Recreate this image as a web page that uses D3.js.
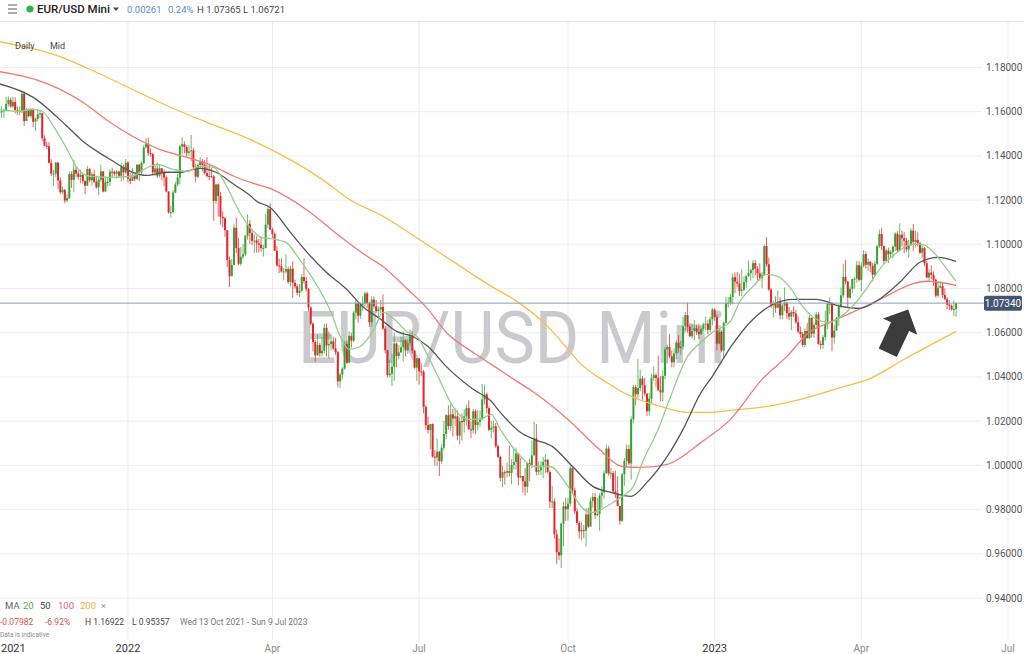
<!DOCTYPE html>
<html>
<head>
	<title>EUR/USD Mini daily</title>
	<script src="https://d3js.org/d3.v7.min.js" charset="utf-8"></script>
	<style>
		body { margin: 0; background: #fff; }
		text { font-family: Roboto, "Open Sans", sans-serif; }
	</style>
</head>
<body>
	<script>
		// daily candles, trading days (Mon-Fri) from Wed 13 Oct 2021 to Wed 31 May 2023
		var startDate = "2021-10-13";
		var firstOpen = 1.1529;

		var closes = [
			1.1594,1.1599,1.1602, 1.1608,1.1635,1.1654,1.1624,1.1644, 1.1608,1.1598,1.1603,1.1681,1.1558,
			1.1607,1.1580,1.1611,1.1555,1.1567, 1.1588,1.1593,1.1480,1.1446,1.1444, 1.1369,1.1320,1.1320,1.1370,1.1289,
			1.1236,1.1247,1.1198,1.1209,1.1318, 1.1292,1.1337,1.1320,1.1305,1.1315, 1.1286,1.1266,1.1341,1.1290,1.1317,
			1.1283,1.1258,1.1292,1.1330,1.1239, 1.1281,1.1282,1.1329,1.1328,1.1320, 1.1329,1.1310,1.1349,1.1325,1.1370,
			// 2022
			1.1297,1.1287,1.1313,1.1296,1.1360, 1.1326,1.1368,1.1439,1.1455,1.1413, 1.1409,1.1325,1.1343,1.1311,1.1344,
			1.1326,1.1302,1.1239,1.1144,1.1146, 1.1234,1.1271,1.1302,1.1443,1.1453, 1.1440,1.1414,1.1420,1.1425,1.1349,
			1.1306,1.1359,1.1375,1.1360,1.1322, 1.1309,1.1308,1.1307,1.1196,1.1271, 1.1219,1.1125,1.1118,1.1064,1.0929,
			1.0856,1.0907,1.1075,1.0983,1.0912, 1.0944,1.0955,1.1038,1.1093,1.1051, 1.1016,1.1017,1.1005,1.0998,1.0983,
			1.0983,1.1089,1.1159,1.1067,1.1047, 1.0971,1.0904,1.0901,1.0877,1.0877, 1.0888,1.0830,1.0890,1.0826,1.0810,
			1.0781,1.0790,1.0852,1.0834,1.0797, 1.0714,1.0641,1.0558,1.0498,1.0545, 1.0507,1.0519,1.0622,1.0543,1.0549,
			1.0561,1.0529,1.0512,1.0380,1.0411, 1.0438,1.0550,1.0464,1.0586,1.0564, 1.0691,1.0733,1.0677,1.0726,1.0733,
			1.0778,1.0734,1.0648,1.0750,1.0720, 1.0698,1.0705,1.0717,1.0619,1.0521, 1.0408,1.0415,1.0446,1.0551,1.0495,
			1.0511,1.0534,1.0566,1.0520,1.0553, 1.0584,1.0519,1.0442,1.0484,1.0425, 1.0424,1.0265,1.0182,1.0160,1.0187,
			1.0040,1.0036,1.0062,1.0019,1.0080, 1.0142,1.0227,1.0178,1.0231,1.0212, 1.0222,1.0134,1.0200,1.0197,1.0222,
			1.0259,1.0163,1.0159,1.0245,1.0183, 1.0196,1.0211,1.0298,1.0321,1.0259, 1.0161,1.0170,1.0177,1.0087,1.0039,
			0.9944,0.9969,0.9967,0.9974,0.9966, 1.0002,1.0015,1.0054,0.9945,0.9952, 0.9928,0.9903,1.0011,1.0002,1.0045,
			1.0122,0.9971,0.9978,0.9999,1.0016, 1.0026,0.9970,0.9836,0.9837,0.9688, 0.9607,0.9593,0.9736,0.9815,0.9802,
			0.9827,0.9987,0.9887,0.9792,0.9740, 0.9701,0.9708,0.9705,0.9778,0.9723, 0.9839,0.9857,0.9775,0.9781,0.9863,
			0.9878,0.9964,1.0076,0.9964,0.9965, 0.9882,0.9874,0.9817,0.9749,0.9959, 1.0020,1.0074,1.0009,1.0209,1.0354,
			1.0322,1.0350,1.0393,1.0363,1.0324, 1.0245,1.0302,1.0395,1.0408,1.0396, 1.0340,1.0330,1.0405,1.0524,1.0536,
			1.0493,1.0466,1.0506,1.0555,1.0530, 1.0538,1.0629,1.0680,1.0627,1.0584, 1.0608,1.0620,1.0604,1.0595,1.0617,
			1.0637,1.0641,1.0613,1.0661,1.0705,
			// 2023
			1.0671,1.0551,1.0604,1.0520,1.0645, 1.0733,1.0736,1.0762,1.0851,1.0831, 1.0823,1.0789,1.0795,1.0830,1.0856,
			1.0870,1.0884,1.0915,1.0890,1.0869, 1.0847,1.0862,1.0992,1.0910,1.0795, 1.0727,1.0729,1.0713,1.0740,1.0679,
			1.0723,1.0737,1.0689,1.0673,1.0694, 1.0687,1.0648,1.0605,1.0594,1.0545, 1.0608,1.0576,1.0668,1.0596,1.0635,
			1.0683,1.0549,1.0545,1.0580,1.0640, 1.0731,1.0731,1.0578,1.0610,1.0669, 1.0717,1.0769,1.0852,1.0831,1.0759,
			1.0799,1.0843,1.0845,1.0905,1.0839, 1.0903,1.0956,1.0908,1.0921,1.0903, 1.0862,1.0912,1.0992,1.1047,1.0992,
			1.0925,1.0972,1.0955,1.0966,1.0990, 1.1048,1.0973,1.1043,1.1028,1.1016, 1.0977,1.0995,1.1062,1.1011,1.1020,
			1.1005,1.0962,1.0983,1.0914,1.0850, 1.0872,1.0862,1.0840,1.0768,1.0804, 1.0811,1.0771,1.0752,1.0727,1.0722,
			1.0706,1.0708,1.0734
		];

		var highs = [
			1.1609,1.1624,1.1624, 1.1610,1.1668,1.1669,1.1664,1.1668, 1.1665,1.1624,1.1624,1.1692,1.1692,
			1.1617,1.1614,1.1616,1.1615,1.1574, 1.1610,1.1609,1.1596,1.1493,1.1464, 1.1464,1.1385,1.1337,1.1374,1.1371,
			1.1303,1.1262,1.1250,1.1228,1.1329, 1.1330,1.1383,1.1352,1.1333,1.1338, 1.1319,1.1290,1.1355,1.1346,1.1326,
			1.1338,1.1307,1.1300,1.1360,1.1330, 1.1303,1.1305,1.1340,1.1347,1.1333, 1.1336,1.1333,1.1369,1.1360,1.1386,
			1.1376,1.1323,1.1346,1.1326,1.1364, 1.1364,1.1375,1.1449,1.1482,1.1483, 1.1433,1.1412,1.1363,1.1370,1.1362,
			1.1345,1.1338,1.1312,1.1240,1.1174, 1.1245,1.1283,1.1320,1.1450,1.1484, 1.1467,1.1448,1.1448,1.1495,1.1437,
			1.1365,1.1367,1.1395,1.1386,1.1382, 1.1395,1.1360,1.1345,1.1314,1.1274, 1.1274,1.1237,1.1150,1.1124,1.1063,
			1.0945,1.0933,1.1091,1.1121,1.1029, 1.0988,1.1001,1.1043,1.1137,1.1109, 1.1070,1.1044,1.1037,1.1026,1.1036,
			1.0998,1.1137,1.1170,1.1185,1.1076, 1.1053,1.0992,1.0935,1.0937,1.0893, 1.0955,1.0899,1.0902,1.0923,1.0840,
			1.0820,1.0820,1.0867,1.0936,1.0853, 1.0802,1.0720,1.0648,1.0568,1.0593, 1.0555,1.0580,1.0641,1.0642,1.0606,
			1.0592,1.0582,1.0578,1.0518,1.0420, 1.0444,1.0562,1.0565,1.0606,1.0600, 1.0698,1.0748,1.0736,1.0737,1.0765,
			1.0787,1.0786,1.0740,1.0765,1.0764, 1.0748,1.0718,1.0749,1.0773,1.0630, 1.0522,1.0478,1.0505,1.0601,1.0556,
			1.0544,1.0582,1.0605,1.0571,1.0571, 1.0615,1.0606,1.0522,1.0486,1.0486, 1.0462,1.0432,1.0274,1.0221,1.0188,
			1.0190,1.0069,1.0122,1.0066,1.0097, 1.0201,1.0232,1.0272,1.0278,1.0256, 1.0258,1.0248,1.0218,1.0234,1.0254,
			1.0275,1.0294,1.0199,1.0254,1.0254, 1.0250,1.0248,1.0368,1.0365,1.0330, 1.0268,1.0201,1.0202,1.0192,1.0094,
			1.0044,0.9999,0.9978,1.0014,1.0090, 1.0028,1.0079,1.0080,1.0055,1.0034, 0.9951,0.9988,1.0013,1.0030,1.0113,
			1.0198,1.0187,1.0019,1.0018,1.0037, 1.0051,1.0020,0.9977,0.9907,0.9851, 0.9710,0.9670,0.9741,0.9836,0.9855,
			0.9853,0.9999,0.9998,0.9898,0.9806, 0.9749,0.9742,0.9730,0.9807,0.9809, 0.9853,0.9875,0.9875,0.9852,0.9873,
			0.9905,0.9977,1.0094,1.0089,0.9989, 0.9975,0.9976,0.9951,0.9817,0.9966, 1.0033,1.0095,1.0093,1.0223,1.0365,
			1.0364,1.0481,1.0434,1.0404,1.0396, 1.0326,1.0328,1.0414,1.0448,1.0417, 1.0497,1.0403,1.0429,1.0534,1.0545,
			1.0595,1.0520,1.0529,1.0566,1.0589, 1.0563,1.0673,1.0694,1.0736,1.0643, 1.0643,1.0658,1.0637,1.0640,1.0637,
			1.0645,1.0673,1.0658,1.0673,1.0713,
			1.0710,1.0683,1.0620,1.0612,1.0650, 1.0760,1.0761,1.0776,1.0868,1.0873, 1.0874,1.0867,1.0887,1.0855,1.0860,
			1.0927,1.0890,1.0929,1.0929,1.0900, 1.0914,1.0875,1.0999,1.1033,1.0939, 1.0803,1.0746,1.0765,1.0791,1.0761,
			1.0730,1.0805,1.0740,1.0716,1.0702, 1.0720,1.0703,1.0675,1.0628,1.0603, 1.0620,1.0645,1.0691,1.0661,1.0646,
			1.0695,1.0694,1.0565,1.0590,1.0700, 1.0736,1.0760,1.0739,1.0636,1.0671, 1.0730,1.0805,1.0912,1.0930,1.0835,
			1.0810,1.0845,1.0852,1.0925,1.0924, 1.0918,1.0973,1.0968,1.0936,1.0925, 1.0915,1.0924,1.0998,1.1067,1.1075,
			1.0995,1.0980,1.0985,1.0974,1.0995, 1.1055,1.1060,1.1095,1.1063,1.1055, 1.1030,1.1020,1.1072,1.1092,1.1060,
			1.1055,1.1010,1.0998,1.0988,1.0925, 1.0890,1.0905,1.0878,1.0845,1.0829, 1.0832,1.0825,1.0800,1.0762,1.0748,
			1.0728,1.0746,1.0737
		];

		var lows = [
			1.1531,1.1585,1.1571, 1.1572,1.1601,1.1623,1.1619,1.1618, 1.1592,1.1585,1.1584,1.1593,1.1535,
			1.1560,1.1575,1.1570,1.1529,1.1513, 1.1556,1.1572,1.1467,1.1443,1.1432, 1.1366,1.1309,1.1264,1.1305,1.1250,
			1.1226,1.1227,1.1186,1.1190,1.1205, 1.1255,1.1235,1.1303,1.1292,1.1276, 1.1274,1.1227,1.1264,1.1281,1.1265,
			1.1276,1.1252,1.1222,1.1282,1.1235, 1.1236,1.1261,1.1264,1.1305,1.1310, 1.1297,1.1300,1.1285,1.1290,1.1317,
			1.1280,1.1272,1.1286,1.1285,1.1292, 1.1286,1.1314,1.1361,1.1434,1.1400, 1.1396,1.1313,1.1308,1.1300,1.1303,
			1.1290,1.1263,1.1235,1.1139,1.1121, 1.1139,1.1231,1.1261,1.1271,1.1408, 1.1412,1.1399,1.1401,1.1375,1.1341,
			1.1280,1.1300,1.1344,1.1332,1.1316, 1.1302,1.1291,1.1302,1.1106,1.1182, 1.1126,1.1089,1.1076,1.1034,1.0897,
			1.0806,1.0855,1.0904,1.0960,1.0905, 1.0903,1.0932,1.0946,1.1021,1.1002, 1.0996,1.0961,1.0963,1.0963,1.0966,
			1.0945,1.0985,1.1074,1.1065,1.1028, 1.0970,1.0900,1.0870,1.0872,1.0837, 1.0868,1.0821,1.0810,1.0757,1.0800,
			1.0770,1.0762,1.0782,1.0822,1.0787, 1.0697,1.0632,1.0516,1.0470,1.0495, 1.0491,1.0493,1.0505,1.0493,1.0483,
			1.0520,1.0521,1.0500,1.0354,1.0350, 1.0389,1.0433,1.0459,1.0464,1.0532, 1.0556,1.0661,1.0644,1.0662,1.0699,
			1.0718,1.0712,1.0626,1.0627,1.0711, 1.0690,1.0653,1.0690,1.0613,1.0506, 1.0398,1.0397,1.0359,1.0382,1.0444,
			1.0480,1.0510,1.0470,1.0494,1.0505, 1.0541,1.0507,1.0437,1.0382,1.0366, 1.0405,1.0235,1.0162,1.0144,1.0072,
			1.0035,0.9999,0.9998,0.9952,1.0007, 1.0069,1.0119,1.0161,1.0154,1.0130, 1.0178,1.0114,1.0095,1.0113,1.0148,
			1.0180,1.0162,1.0123,1.0144,1.0141, 1.0159,1.0174,1.0203,1.0276,1.0234, 1.0154,1.0122,1.0149,1.0079,1.0032,
			0.9927,0.9901,0.9913,0.9946,0.9950, 0.9914,0.9983,0.9980,0.9910,0.9944, 0.9877,0.9864,0.9876,0.9929,0.9987,
			1.0047,0.9955,0.9955,0.9956,0.9944, 0.9966,0.9964,0.9808,0.9807,0.9668, 0.9553,0.9572,0.9536,0.9634,0.9749,
			0.9750,0.9814,0.9873,0.9779,0.9730, 0.9668,0.9660,0.9670,0.9632,0.9716, 0.9735,0.9809,0.9758,0.9769,0.9705,
			0.9808,0.9850,0.9962,0.9954,0.9937, 0.9870,0.9852,0.9815,0.9730,0.9744, 0.9908,0.9993,1.0001,0.9935,1.0190,
			1.0271,1.0304,1.0334,1.0297,1.0314, 1.0223,1.0225,1.0279,1.0382,1.0355, 1.0336,1.0290,1.0290,1.0390,1.0460,
			1.0485,1.0443,1.0443,1.0481,1.0510, 1.0500,1.0523,1.0610,1.0600,1.0580, 1.0574,1.0567,1.0590,1.0573,1.0590,
			1.0608,1.0611,1.0594,1.0602,1.0633,
			1.0654,1.0520,1.0547,1.0511,1.0484, 1.0640,1.0713,1.0725,1.0728,1.0780, 1.0806,1.0766,1.0766,1.0790,1.0803,
			1.0853,1.0835,1.0847,1.0860,1.0835, 1.0835,1.0802,1.0858,1.0899,1.0790, 1.0712,1.0669,1.0690,1.0710,1.0661,
			1.0660,1.0697,1.0662,1.0657,1.0612, 1.0671,1.0640,1.0598,1.0576,1.0536, 1.0533,1.0572,1.0571,1.0578,1.0578,
			1.0622,1.0546,1.0524,1.0528,1.0564, 1.0617,1.0686,1.0516,1.0551,1.0610, 1.0631,1.0713,1.0758,1.0820,1.0712,
			1.0754,1.0780,1.0800,1.0827,1.0832, 1.0788,1.0896,1.0890,1.0880,1.0875, 1.0832,1.0858,1.0906,1.0983,1.0974,
			1.0910,1.0928,1.0915,1.0938,1.0937, 1.0970,1.0965,1.0970,1.0990,1.0960, 1.0966,1.0940,1.0998,1.0969,1.0985,
			1.0990,1.0956,1.0937,1.0900,1.0845, 1.0835,1.0843,1.0812,1.0760,1.0759, 1.0802,1.0759,1.0747,1.0706,1.0703,
			1.0700,1.0676,1.0672
		];

		// moving averages: [trading day index, value]
		var ma20 = [[0,1.1611],[9,1.1602],[16,1.1611],[20,1.1602],[25,1.1534],[31,1.1430],[35,1.1353],[41,1.1308],
			[50,1.1303],[60,1.1308],[65,1.1339],[71,1.1362],[78,1.1339],[84,1.1330],[90,1.1353],[96,1.1348],[100,1.1294],
			[108,1.1136],[112,1.1077],[117,1.1032],[123,1.1023],[128,1.1009],[134,1.0932],[142,1.0810],[148,1.0692],
			[152,1.0584],[156,1.0525],[161,1.0538],[167,1.0615],[171,1.0692],[176,1.0661],[182,1.0602],[186,1.0584],
			[191,1.0493],[196,1.0389],[202,1.0267],[208,1.0208],[214,1.0208],[219,1.0231],[223,1.0163],[232,1.0041],
			[238,0.9995],[245,0.9995],[253,0.9905],[260,0.9801],[264,0.9787],[270,0.9814],[277,0.9860],[282,0.9905],
			[286,1.0014],[293,1.0163],[298,1.0299],[306,1.0493],[312,1.0557],[317,1.0602],[325,1.0652],[329,1.0738],
			[335,1.0810],[341,1.0864],[346,1.0855],[351,1.0810],[357,1.0719],[363,1.0661],[369,1.0647],[374,1.0674],
			[379,1.0719],[386,1.0810],[391,1.0887],[399,1.0964],[405,1.1000],[410,1.1000],[415,1.0964],[421,1.0887],
			[425,1.0833]];
		var ma50 = [[0,1.1729],[16,1.1665],[31,1.1534],[38,1.1466],[50,1.1385],[60,1.1326],[66,1.1312],[75,1.1326],
			[81,1.1326],[90,1.1344],[97,1.1326],[105,1.1271],[112,1.1222],[115,1.1195],[121,1.1167],[130,1.1054],
			[137,1.0968],[146,1.0873],[155,1.0796],[162,1.0719],[170,1.0661],[177,1.0606],[184,1.0584],[191,1.0538],
			[199,1.0448],[211,1.0344],[219,1.0290],[223,1.0240],[232,1.0149],[238,1.0118],[246,1.0086],[255,0.9995],
			[264,0.9905],[272,0.9878],[281,0.9860],[288,0.9923],[297,1.0041],[304,1.0163],[312,1.0330],[317,1.0403],
			[325,1.0534],[335,1.0661],[344,1.0729],[353,1.0751],[363,1.0751],[374,1.0719],[382,1.0710],[391,1.0751],
			[400,1.0828],[409,1.0919],[417,1.0941],[425,1.0923]];
		var ma100 = [[0,1.1783],[23,1.1724],[38,1.1643],[50,1.1552],[60,1.1489],[72,1.1430],[84,1.1394],[96,1.1353],
			[105,1.1308],[112,1.1281],[122,1.1249],[137,1.1158],[152,1.1036],[164,1.0946],[171,1.0900],[182,1.0796],
			[191,1.0706],[199,1.0602],[211,1.0511],[219,1.0457],[229,1.0389],[238,1.0330],[253,1.0208],[267,1.0072],
			[277,0.9995],[285,0.9991],[297,1.0005],[312,1.0104],[325,1.0208],[339,1.0389],[350,1.0493],[360,1.0602],
			[369,1.0647],[379,1.0692],[394,1.0765],[405,1.0819],[412,1.0833],[425,1.0814]];
		var ma200 = [[0,1.1919],[31,1.1837],[41,1.1792],[81,1.1602],[93,1.1552],[112,1.1475],[144,1.1294],[156,1.1204],
			[171,1.1127],[187,1.1023],[202,1.0923],[219,1.0810],[229,1.0751],[244,1.0629],[253,1.0525],[258,1.0466],
			[270,1.0376],[281,1.0312],[288,1.0285],[297,1.0258],[306,1.0240],[317,1.0240],[325,1.0249],[338,1.0262],
			[356,1.0299],[374,1.0353],[387,1.0394],[402,1.0480],[425,1.0606]];

		var yTicks = [0.94, 0.96, 0.98, 1.00, 1.02, 1.04, 1.06, 1.08, 1.10, 1.12, 1.14, 1.16, 1.18];
		var xTicks = [
			{label: "2022", date: "2022-01-03", year: true},
			{label: "Apr", date: "2022-04-01", year: false},
			{label: "Jul", date: "2022-07-01", year: false},
			{label: "Oct", date: "2022-10-03", year: false},
			{label: "2023", date: "2023-01-02", year: true},
			{label: "Apr", date: "2023-04-03", year: false},
			{label: "Jul", date: "2023-07-03", year: false}
		];
		var lastPrice = 1.0734;

		var svgWidth = 1024,
			svgHeight = 654,
			headerH = 21,
			svg = d3.select("body")
				.append("svg")
				.attr("width", svgWidth)
				.attr("height", svgHeight);

		// weekday count from the first candle
		function tradingIndex(s) {
			var d0 = new Date(startDate + "T00:00:00Z"), d1 = new Date(s + "T00:00:00Z"), n = 0;
			for (var d = new Date(d0); d < d1; d.setUTCDate(d.getUTCDate() + 1)) {
				var w = d.getUTCDay();
				if (w !== 0 && w !== 6) n++;
			}
			return n;
		}

		var x = d3.scaleLinear().domain([0, 448]).range([-2.9, 1008]),
			y = d3.scaleLinear().domain([0.94, 1.18]).range([598, 67.5]);

		var candles = closes.map(function(c, i) {
			var o = i === 0 ? firstOpen : closes[i - 1];
			return {i: i, o: o, c: c, h: Math.max(highs[i], o, c), l: Math.min(lows[i], o, c)};
		});

		svg.append("defs").append("clipPath").attr("id", "plot")
			.append("rect").attr("x", 0).attr("y", headerH).attr("width", svgWidth).attr("height", svgHeight - headerH);

		// grid
		var grid = svg.append("g");
		grid.selectAll(".hg").data(yTicks).enter().append("line")
			.attr("x1", 0).attr("x2", 982)
			.attr("y1", function(d) { return y(d); }).attr("y2", function(d) { return y(d); })
			.attr("stroke", "#eeeeee");
		grid.selectAll(".vg").data(xTicks).enter().append("line")
			.attr("x1", function(d) { return x(tradingIndex(d.date)); })
			.attr("x2", function(d) { return x(tradingIndex(d.date)); })
			.attr("y1", headerH).attr("y2", 640)
			.attr("stroke", "#ebebeb");

		// watermark
		svg.append("text")
			.attr("x", 298).attr("y", 363)
			.attr("textLength", 428).attr("lengthAdjust", "spacingAndGlyphs")
			.attr("font-size", 72).attr("fill", "#c9c9ce")
			.text("EUR/USD Mini");

		var plot = svg.append("g").attr("clip-path", "url(#plot)");

		// candles
		var cg = plot.append("g");
		cg.selectAll(".wick").data(candles).enter().append("line")
			.attr("x1", function(d) { return x(d.i); }).attr("x2", function(d) { return x(d.i); })
			.attr("y1", function(d) { return y(d.h); }).attr("y2", function(d) { return y(d.l); })
			.attr("stroke", function(d) { return d.c >= d.o ? "#3aa63a" : "#e42b2b"; })
			.attr("stroke-opacity", 0.75)
			.attr("stroke-width", 1);
		cg.selectAll(".body").data(candles).enter().append("rect")
			.attr("x", function(d) { return x(d.i) - 1; })
			.attr("width", 2)
			.attr("y", function(d) { return y(Math.max(d.o, d.c)); })
			.attr("height", function(d) { return Math.max(1, Math.abs(y(d.o) - y(d.c))); })
			.attr("fill", function(d) { return d.c >= d.o ? "#34a334" : "#e4262a"; });

		// moving averages
		var maLine = d3.line()
			.x(function(d) { return x(d[0]); })
			.y(function(d) { return y(d[1]); })
			.curve(d3.curveMonotoneX);
		[[ma200, "#fbbd45"], [ma100, "#f07a76"], [ma50, "#555555"], [ma20, "#8fd08a"]].forEach(function(m) {
			plot.append("path").datum(m[0])
				.attr("d", maLine)
				.attr("fill", "none")
				.attr("stroke", m[1])
				.attr("stroke-width", 1.3);
		});

		// last price line
		plot.append("line")
			.attr("x1", 0).attr("x2", 984)
			.attr("y1", y(lastPrice)).attr("y2", y(lastPrice))
			.attr("stroke", "#8d9cb5").attr("stroke-width", 1);

		// arrow annotation, anchored at its tail
		var arrow = [[0,-10],[29,-10],[29,-19],[48,0],[29,19],[29,10],[0,10]];
		plot.append("polygon")
			.attr("points", arrow.map(function(p) { return p.join(","); }).join(" "))
			.attr("transform", "translate(" + x(394.7) + "," + y(1.0509) + ") rotate(-64.8)")
			.attr("fill", "#3c3c3c");

		// y axis labels
		svg.append("g").selectAll("text").data(yTicks).enter().append("text")
			.attr("x", 986).attr("y", function(d) { return y(d); })
			.attr("dy", "0.35em")
			.attr("font-size", 10).attr("fill", "#555")
			.text(d3.format(".5f"));

		svg.append("rect")
			.attr("x", 984).attr("y", y(lastPrice) - 7.5).attr("width", 38).attr("height", 15).attr("rx", 2)
			.attr("fill", "#435571");
		svg.append("text")
			.attr("x", 1003).attr("y", y(lastPrice)).attr("dy", "0.35em")
			.attr("text-anchor", "middle").attr("font-size", 10).attr("fill", "#fff")
			.text(d3.format(".5f")(lastPrice));

		// x axis labels
		var xl = svg.append("g");
		xl.append("text").attr("x", 1).attr("y", 652).attr("font-size", 11).attr("fill", "#333").text("2021");
		xl.selectAll(".xt").data(xTicks).enter().append("text")
			.attr("x", function(d) { return x(tradingIndex(d.date)); })
			.attr("y", 652)
			.attr("text-anchor", "middle")
			.attr("font-size", function(d) { return d.year ? 11 : 10; })
			.attr("fill", function(d) { return d.year ? "#333" : "#888"; })
			.text(function(d) { return d.label; });

		// header
		svg.append("rect").attr("width", svgWidth).attr("height", headerH).attr("fill", "#fff");
		svg.append("line").attr("x1", 0).attr("x2", svgWidth).attr("y1", headerH + 0.5).attr("y2", headerH + 0.5).attr("stroke", "#e4e4e4");
		[5, 9, 13].forEach(function(v) {
			svg.append("line").attr("x1", 8).attr("x2", 17).attr("y1", v).attr("y2", v).attr("stroke", "#777").attr("stroke-width", 1.2);
		});
		svg.append("circle").attr("cx", 30).attr("cy", 9).attr("r", 3.6).attr("fill", "#2db34a");
		svg.append("text").attr("x", 37).attr("y", 13).attr("font-size", 11.5).attr("font-weight", 500).attr("fill", "#222").text("EUR/USD Mini");
		svg.append("path").attr("d", "M113,7.5 L119,7.5 L116,11 Z").attr("fill", "#444");
		svg.append("text").attr("x", 127).attr("y", 12.5).attr("font-size", 9.5).attr("fill", "#5b8ccb").text("0.00261");
		svg.append("text").attr("x", 168).attr("y", 12.5).attr("font-size", 9.5).attr("fill", "#5b8ccb").text("0.24%");
		svg.append("text").attr("x", 197).attr("y", 12.5).attr("font-size", 9.5).attr("fill", "#444").text("H 1.07365 L 1.06721");

		svg.append("text").attr("x", 15).attr("y", 49).attr("font-size", 9).attr("fill", "#444").text("Daily");
		svg.append("text").attr("x", 50).attr("y", 49).attr("font-size", 9).attr("fill", "#444").text("Mid");

		// legend / info block
		var info = svg.append("g").attr("font-size", 9.5);
		[["MA", 5, "#666"], ["20", 23, "#4caf50"], ["50", 40, "#444"], ["100", 58, "#e06666"], ["200", 80, "#f5b041"], ["\u00d7", 101, "#999"]]
			.forEach(function(t) {
				info.append("text").attr("x", t[1]).attr("y", 609).attr("fill", t[2]).text(t[0]);
			});
		[["-0.07982", 0, "#e05252"], ["-6.92%", 45, "#e05252"], ["H 1.16922", 85, "#444"], ["L 0.95357", 132, "#444"], ["Wed 13 Oct 2021 - Sun 9 Jul 2023", 180, "#777"]]
			.forEach(function(t) {
				info.append("text").attr("x", t[1]).attr("y", 625).attr("font-size", 8.5).attr("fill", t[2]).text(t[0]);
			});
		info.append("text").attr("x", 0).attr("y", 637).attr("font-size", 6.5).attr("fill", "#888").text("Data is indicative");
	</script>
</body>
</html>
